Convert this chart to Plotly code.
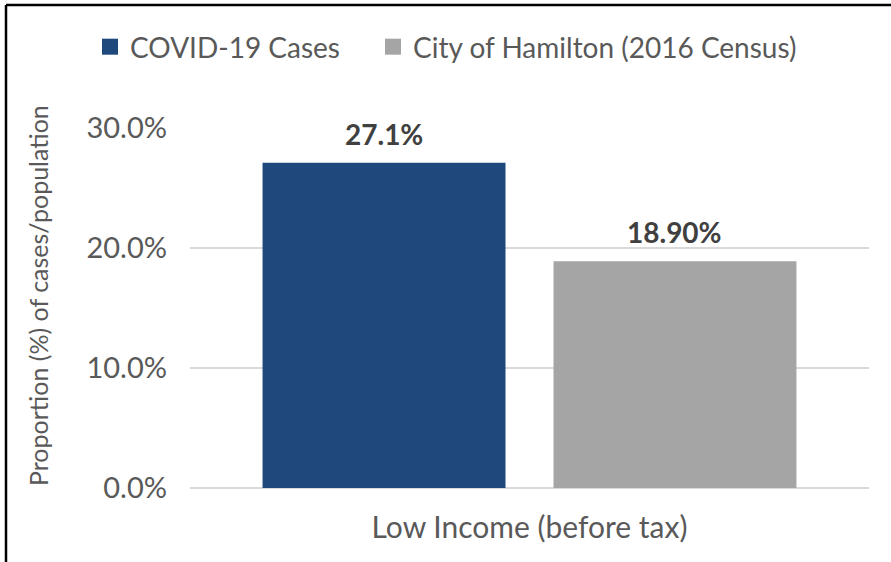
import plotly.graph_objects as go

# ---- data ----
categories = ["Low Income (before tax)"]
series_names = ["COVID-19 Cases", "City of Hamilton (2016 Census)"]
covid_values = [27.1]
hamilton_values = [18.9]
value_labels = [["27.1%"], ["18.90%"]]
y_tick_values = [0, 10, 20, 30]
y_tick_labels = ["0.0%", "10.0%", "20.0%", "30.0%"]

# ---- style / layout ----
W, H = 891, 562
ML, MR, MT, MB = 190, 22, 128, 74
BARGAP = 0.143
GROUPGAP = 0.165
colors = ["#1F497D", "#A5A5A5"]
legend_ids = ["legend", "legend2"]
legend_left_px = [90, 373]
FONT = "Lato"
TXT = "#595959"

plot_w = W - ML - MR
plot_h = H - MT - MB

fig = go.Figure()
for name, vals, col, lg in zip(series_names, [covid_values, hamilton_values], colors, legend_ids):
    fig.add_trace(go.Bar(x=categories, y=vals, name=name, marker_color=col,
                         marker_line_width=0, hoverinfo="skip", showlegend=False))
    # legend entry with a larger square swatch
    fig.add_trace(go.Scatter(x=[None], y=[None], mode="markers", name=name,
                             marker=dict(symbol="square", size=16, color=col),
                             hoverinfo="skip", showlegend=True, legend=lg))

# data labels via annotations placed above each bar
slot = plot_w * (1 - BARGAP) / 2
for i, (vals, labs) in enumerate(zip([covid_values, hamilton_values], value_labels)):
    shift = (i - 0.5) * slot
    for c, v, t in zip(categories, vals, labs):
        fig.add_annotation(x=c, y=v, text="<b>" + t + "</b>", showarrow=False,
                           xshift=shift, yshift=29, yanchor="middle",
                           font=dict(family=FONT, size=28, color="#404040"))

# y-axis title
fig.add_annotation(xref="paper", yref="paper", x=(38 - ML) / plot_w,
                   y=(H - MB - 296) / plot_h, text="Proportion (%) of cases/population",
                   textangle=-90, showarrow=False, xanchor="center", yanchor="middle",
                   font=dict(family=FONT, size=25, color=TXT))

# outer border (top and left edges)
bx = (6 - ML) / plot_w
by = (H - MB - 5) / plot_h
fig.add_shape(type="line", xref="paper", yref="paper", x0=bx, x1=1.2, y0=by, y1=by,
              line=dict(color="#000000", width=2.5))
fig.add_shape(type="line", xref="paper", yref="paper", x0=bx, x1=bx, y0=by, y1=-0.3,
              line=dict(color="#000000", width=2.5))

legend_style = dict(orientation="h", xanchor="left",
                    y=(H - MB - 47) / plot_h, yanchor="middle",
                    font=dict(family=FONT, size=28, color=TXT),
                    itemwidth=30, bgcolor="rgba(0,0,0,0)")

fig.update_layout(
    width=W, height=H,
    margin=dict(l=ML, r=MR, t=MT, b=MB, pad=0),
    paper_bgcolor="white", plot_bgcolor="white",
    barmode="group", bargap=BARGAP, bargroupgap=GROUPGAP,
    font=dict(family=FONT, color=TXT),
    showlegend=True,
    legend=dict(x=(legend_left_px[0] - ML) / plot_w, **legend_style),
    legend2=dict(x=(legend_left_px[1] - ML) / plot_w, **legend_style),
    xaxis=dict(showgrid=False, showline=False, zeroline=False, ticks="",
               tickfont=dict(family=FONT, size=30, color=TXT), ticklabelstandoff=19),
    yaxis=dict(range=[0, 30], tickvals=y_tick_values, ticktext=y_tick_labels,
               showgrid=True, gridcolor="#D9D9D9", gridwidth=1.5, zeroline=True,
               zerolinecolor="#D9D9D9", zerolinewidth=1.5, showline=False, ticks="",
               tickfont=dict(family=FONT, size=29, color=TXT), ticklabelstandoff=22),
)

fig.write_html("out.html", config={"displayModeBar": False},
               post_script="document.body.style.margin='0px';")
